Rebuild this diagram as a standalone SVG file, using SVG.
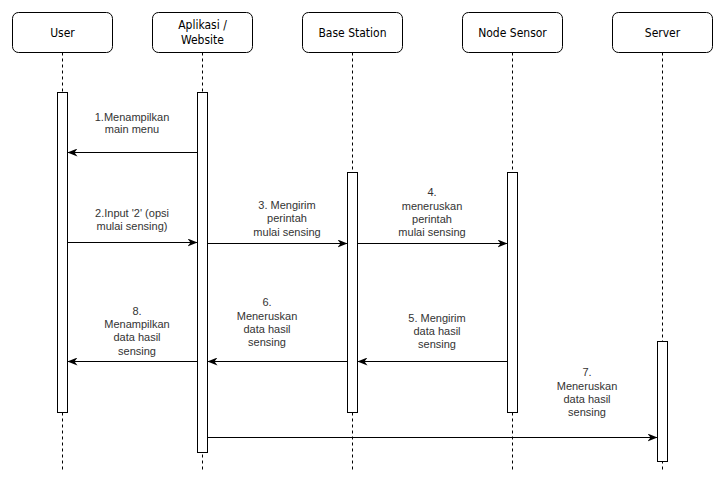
<svg xmlns="http://www.w3.org/2000/svg" width="721" height="482" viewBox="0 0 721 482">
<defs>
<style>
.hdr{fill:#fff;stroke:#000;stroke-width:1}
.ht{font-family:"DejaVu Sans Condensed","DejaVu Sans",sans-serif;font-size:12px;fill:#000;text-anchor:middle}
.life{stroke:#000;stroke-width:1;stroke-dasharray:3,3;fill:none}
.act{fill:#fff;stroke:#000;stroke-width:1}
.msg{stroke:#000;stroke-width:1;fill:none;marker-end:url(#ah)}
.lbl{font-family:"Liberation Sans",Arial,sans-serif;font-size:11px;fill:#333;text-anchor:middle}
</style>
<marker id="ah" viewBox="0 0 10 8" refX="10" refY="4" markerWidth="10" markerHeight="8" markerUnits="userSpaceOnUse" orient="auto">
<path d="M0,0 L10,4 L0,8 L3,4 Z" fill="#000"/>
</marker>
</defs>
<rect width="721" height="482" fill="#fff"/>
<g id="user">
<rect class="hdr" x="12.5" y="12.5" width="100" height="40" rx="6"/>
<text class="ht" x="62.5" y="37">User</text>
<line class="life" x1="62.5" y1="52.5" x2="62.5" y2="470"/>
<rect class="act" x="57.5" y="92.5" width="10" height="320"/>
</g>
<g id="aplikasi">
<rect class="hdr" x="152.5" y="12.5" width="100" height="40" rx="6"/>
<text class="ht" x="202.5" y="29">Aplikasi /</text>
<text class="ht" x="202.5" y="44">Website</text>
<line class="life" x1="202.5" y1="52.5" x2="202.5" y2="470"/>
<rect class="act" x="197.5" y="92.5" width="10" height="360"/>
</g>
<g id="basestation">
<rect class="hdr" x="302.5" y="12.5" width="100" height="40" rx="6"/>
<text class="ht" x="352.5" y="37">Base Station</text>
<line class="life" x1="352.5" y1="52.5" x2="352.5" y2="470"/>
<rect class="act" x="347.5" y="172.5" width="10" height="240"/>
</g>
<g id="nodesensor">
<rect class="hdr" x="462.5" y="12.5" width="100" height="40" rx="6"/>
<text class="ht" x="512.5" y="37">Node Sensor</text>
<line class="life" x1="512.5" y1="52.5" x2="512.5" y2="470"/>
<rect class="act" x="507.5" y="172.5" width="10" height="240"/>
</g>
<g id="server">
<rect class="hdr" x="612.5" y="12.5" width="100" height="40" rx="6"/>
<text class="ht" x="662.5" y="37">Server</text>
<line class="life" x1="662.5" y1="52.5" x2="662.5" y2="470"/>
<rect class="act" x="657.5" y="341.5" width="10" height="120"/>
</g>
<g id="connectors">
<line class="msg" x1="197.5" y1="152.5" x2="67.5" y2="152.5"/>
<text class="lbl" x="132" y="121">1.Menampilkan</text>
<text class="lbl" x="132" y="133">main menu</text>
<line class="msg" x1="67.5" y1="242.5" x2="197.5" y2="242.5"/>
<text class="lbl" x="132" y="217">2.Input '2' (opsi</text>
<text class="lbl" x="132" y="230">mulai sensing)</text>
<line class="msg" x1="207.5" y1="243.5" x2="347.5" y2="243.5"/>
<text class="lbl" x="287" y="209">3. Mengirim</text>
<text class="lbl" x="287" y="222">perintah</text>
<text class="lbl" x="287" y="236">mulai sensing</text>
<line class="msg" x1="357.5" y1="243.5" x2="507.5" y2="243.5"/>
<text class="lbl" x="432" y="196">4.</text>
<text class="lbl" x="432" y="210">meneruskan</text>
<text class="lbl" x="432" y="223">perintah</text>
<text class="lbl" x="432" y="236">mulai sensing</text>
<line class="msg" x1="507.5" y1="361.5" x2="357.5" y2="361.5"/>
<text class="lbl" x="437" y="322">5. Mengirim</text>
<text class="lbl" x="437" y="335">data hasil</text>
<text class="lbl" x="437" y="348">sensing</text>
<line class="msg" x1="347.5" y1="361.5" x2="207.5" y2="361.5"/>
<text class="lbl" x="267" y="306">6.</text>
<text class="lbl" x="267" y="320">Meneruskan</text>
<text class="lbl" x="267" y="333">data hasil</text>
<text class="lbl" x="267" y="346">sensing</text>
<line class="msg" x1="197.5" y1="361.5" x2="67.5" y2="361.5"/>
<text class="lbl" x="137" y="315">8.</text>
<text class="lbl" x="137" y="328">Menampilkan</text>
<text class="lbl" x="137" y="341">data hasil</text>
<text class="lbl" x="137" y="355">sensing</text>
<line class="msg" x1="207.5" y1="437.5" x2="657.5" y2="437.5"/>
<text class="lbl" x="587" y="376">7.</text>
<text class="lbl" x="587" y="390">Meneruskan</text>
<text class="lbl" x="587" y="403">data hasil</text>
<text class="lbl" x="587" y="416">sensing</text>
</g>
</svg>
